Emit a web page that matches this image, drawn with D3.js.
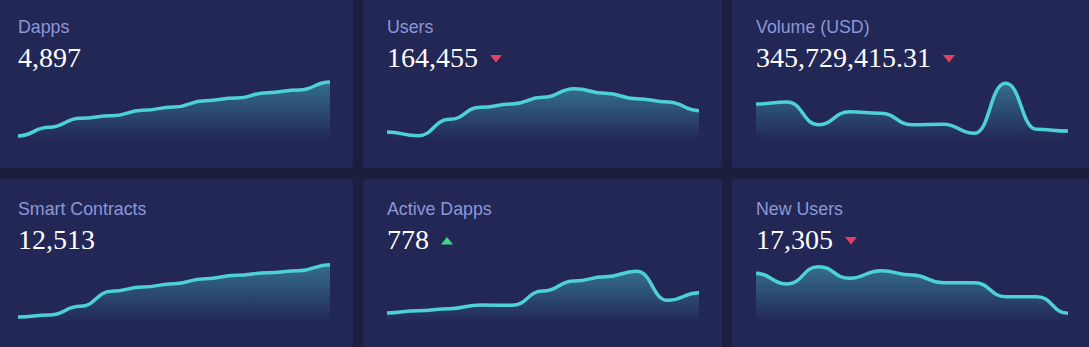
<!DOCTYPE html>
<html>
<head>
<meta charset="utf-8">
<script src="https://cdn.jsdelivr.net/npm/d3@7"></script>
<style>
  html, body { margin: 0; padding: 0; background: #1b1e3c; overflow: hidden; }
  svg { display: block; }
</style>
</head>
<body>
<svg id="chart" width="1089" height="347"></svg>
<script>
// ---- data ----
const titles = ["Dapps", "Users", "Volume (USD)", "Smart Contracts", "Active Dapps", "New Users"];
const totals = ["4,897", "164,455", "345,729,415.31", "12,513", "778", "17,305"];
const trends = [null, "down", "down", null, "up", "down"];
const dappsSeries         = [1.8, 17.3, 33.3, 38.0, 47.6, 53.6, 64.9, 69.6, 79.2, 83.9, 98.2];
const usersSeries         = [8.9, 2.4, 31.5, 53.0, 58.9, 70.8, 86.3, 78.0, 68.5, 62.5, 47.0];
const volumeSeries        = [58.9, 62.5, 22.0, 45.2, 42.3, 22.0, 22.6, 6.5, 95.8, 13.7, 10.7];
const smartContractSeries = [3.6, 7.1, 22.6, 49.4, 57.1, 63.0, 72.0, 78.0, 82.7, 86.3, 97.0];
const activeDappsSeries   = [10.7, 14.9, 18.5, 25.0, 24.4, 50.0, 67.9, 75.6, 85.1, 33.3, 47.0];
const newUsersSeries      = [81.5, 62.5, 93.5, 72.6, 86.3, 78.6, 64.9, 64.9, 39.9, 39.9, 10.1];
const seriesList = [dappsSeries, usersSeries, volumeSeries, smartContractSeries, activeDappsSeries, newUsersSeries];

// ---- layout ----
const svg = d3.select("#chart");
const cardW = 359, cardH = 171, pitchX = 369, pitchY = 182, originX = -6, originY = -3;
const padL = 24, sparkW = 312;
const lineColor = "#4dd0d8";

const defs = svg.append("defs");
const grad = defs.append("linearGradient").attr("id", "areaGrad")
  .attr("x1", 0).attr("y1", 0).attr("x2", 0).attr("y2", 1);
grad.append("stop").attr("offset", "0%").attr("stop-color", lineColor).attr("stop-opacity", 0.42);
grad.append("stop").attr("offset", "100%").attr("stop-color", lineColor).attr("stop-opacity", 0.0);

titles.forEach((title, i) => {
  const col = i % 3, row = Math.floor(i / 3);
  const x0 = originX + col * pitchX, y0 = originY + row * pitchY;
  const g = svg.append("g").attr("transform", `translate(${x0},${y0})`);

  g.append("rect").attr("width", cardW).attr("height", cardH).attr("rx", 4).attr("fill", "#222756");

  g.append("text").attr("x", padL).attr("y", 36)
    .attr("font-family", "'Liberation Sans', Arial, sans-serif").attr("font-size", 17.8)
    .attr("fill", "#8d97d8").text(title);

  const val = g.append("text").attr("x", padL).attr("y", 70)
    .attr("font-family", "'Liberation Serif', 'Times New Roman', serif").attr("font-size", 28)
    .attr("fill", "#ffffff").text(totals[i]);

  if (trends[i]) {
    const tw = val.node().getComputedTextLength();
    const tx = padL + tw + 12, cy = 62;
    const d = trends[i] === "down"
      ? `M${tx},${cy - 4} L${tx + 12},${cy - 4} L${tx + 6},${cy + 3.5} Z`
      : `M${tx},${cy + 3.5} L${tx + 12},${cy + 3.5} L${tx + 6},${cy - 4} Z`;
    g.append("path").attr("d", d).attr("fill", trends[i] === "down" ? "#e3425f" : "#3ad983");
  }

  const data = seriesList[i];
  const x = d3.scaleLinear().domain([0, data.length - 1]).range([padL, padL + sparkW]);
  const y = d3.scaleLinear().domain([0, 100]).range([140, 84]);

  const area = d3.area().x((d, j) => x(j)).y0(143).y1(d => y(d)).curve(d3.curveBumpX);
  const line = d3.line().x((d, j) => x(j)).y(d => y(d)).curve(d3.curveBumpX);

  g.append("path").datum(data).attr("d", area).attr("fill", "url(#areaGrad)");
  g.append("path").datum(data).attr("d", line).attr("fill", "none")
    .attr("stroke", lineColor).attr("stroke-width", 3.5);
});
</script>
</body>
</html>
